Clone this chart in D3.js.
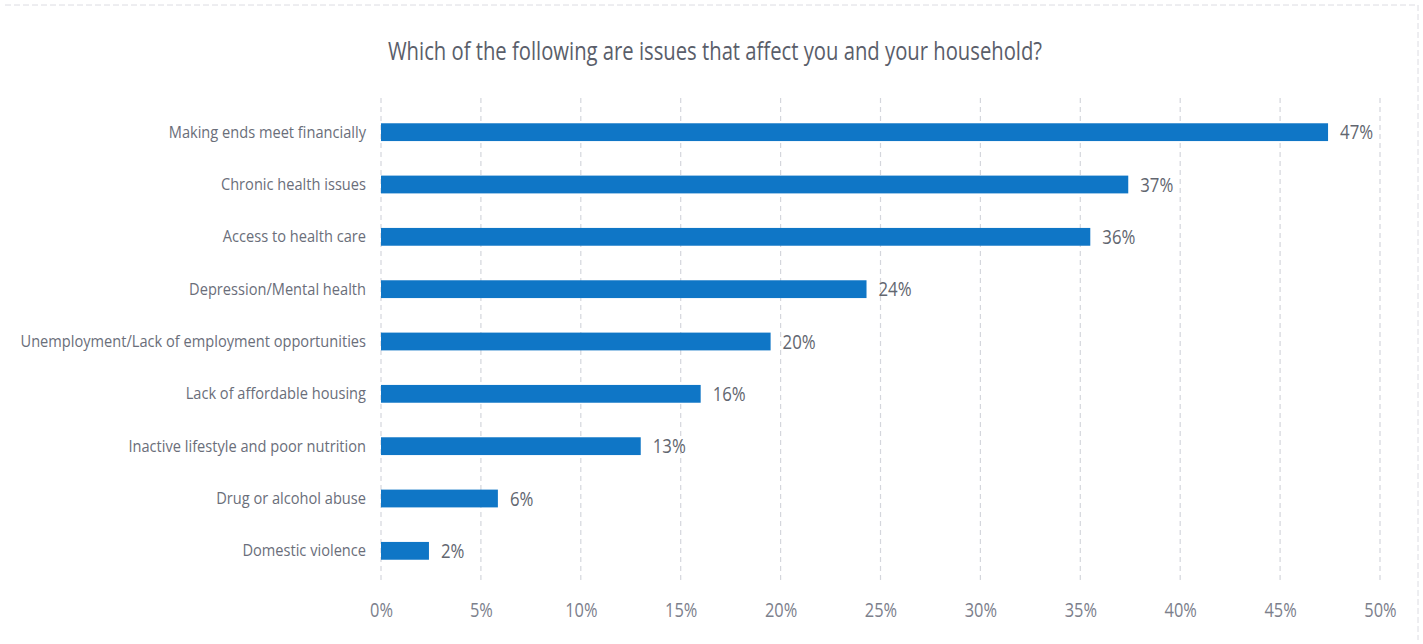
<!DOCTYPE html>
<html>
<head>
<meta charset="utf-8">
<script src="https://cdn.jsdelivr.net/npm/d3@7"></script>
<style>
  html, body { margin: 0; padding: 0; background: #ffffff; }
  svg { display: block; }
</style>
</head>
<body>
<svg id="chart" width="1423" height="644"></svg>
<script>
const title = "Which of the following are issues that affect you and your household?";
const categories = [
  "Making ends meet financially",
  "Chronic health issues",
  "Access to health care",
  "Depression/Mental health",
  "Unemployment/Lack of employment opportunities",
  "Lack of affordable housing",
  "Inactive lifestyle and poor nutrition",
  "Drug or alcohol abuse",
  "Domestic violence"
];
const values = [47.4, 37.4, 35.5, 24.3, 19.5, 16.0, 13.0, 5.85, 2.4];
const valueLabels = ["47%", "37%", "36%", "24%", "20%", "16%", "13%", "6%", "2%"];
const tickValues = [0, 5, 10, 15, 20, 25, 30, 35, 40, 45, 50];
const tickLabels = ["0%", "5%", "10%", "15%", "20%", "25%", "30%", "35%", "40%", "45%", "50%"];

const FONT = "'Open Sans', 'Noto Sans', sans-serif";
const svg = d3.select("#chart");

const x = d3.scaleLinear().domain([0, 50]).range([381, 1380]);
const y = d3.scaleBand().domain(categories).range([106, 577])
  .paddingInner(0.66).paddingOuter(0.33);

// faint outer frame (top & right)
svg.append("line").attr("x1", 5).attr("x2", 1418).attr("y1", 5).attr("y2", 5)
  .attr("stroke", "#dcdce2").attr("stroke-width", 1).attr("stroke-dasharray", "6,3");
svg.append("line").attr("x1", 1418).attr("x2", 1418).attr("y1", 5).attr("y2", 640)
  .attr("stroke", "#dcdce2").attr("stroke-width", 1).attr("stroke-dasharray", "6,3");

// title (condensed look)
svg.append("text")
  .attr("transform", "translate(715,60) scale(0.81,1)")
  .attr("text-anchor", "middle")
  .attr("font-family", FONT)
  .attr("font-size", 25)
  .attr("fill", "#5a5e6a")
  .text(title);

// gridlines
svg.append("g").selectAll("line").data(tickValues).join("line")
  .attr("x1", d => x(d)).attr("x2", d => x(d))
  .attr("y1", 98).attr("y2", 582)
  .attr("stroke", "#d4d6dc").attr("stroke-width", 1.2)
  .attr("stroke-dasharray", "5,4");

// x axis
const xAxis = d3.axisBottom(x).tickValues(tickValues)
  .tickFormat((d, i) => tickLabels[i]).tickSize(0).tickPadding(0);
const gx = svg.append("g").attr("transform", "translate(0,603)").call(xAxis);
gx.select(".domain").remove();
gx.selectAll("text")
  .attr("font-family", FONT).attr("font-size", 20)
  .attr("fill", "#7c808c").attr("dy", "0.71em")
  .attr("transform", "scale(0.82,1)");

// y axis
const yAxis = d3.axisLeft(y).tickSize(0).tickPadding(0);
const gy = svg.append("g").attr("transform", "translate(366,0)").call(yAxis);
gy.select(".domain").remove();
gy.selectAll("text")
  .attr("font-family", FONT).attr("font-size", 17)
  .attr("fill", "#6a6e7a")
  .attr("transform", "scale(0.86,1)");

// bars
svg.append("g").selectAll("rect").data(values).join("rect")
  .attr("x", x(0))
  .attr("y", (d, i) => y(categories[i]))
  .attr("width", d => x(d) - x(0))
  .attr("height", y.bandwidth())
  .attr("fill", "#0f76c6");

// value labels
svg.append("g").selectAll("text").data(values).join("text")
  .attr("transform", (d, i) =>
    `translate(${x(d) + 12},${y(categories[i]) + y.bandwidth() / 2}) scale(0.84,1)`)
  .attr("dy", "0.36em")
  .attr("font-family", FONT).attr("font-size", 20)
  .attr("fill", "#62666f")
  .text((d, i) => valueLabels[i]);
</script>
</body>
</html>
